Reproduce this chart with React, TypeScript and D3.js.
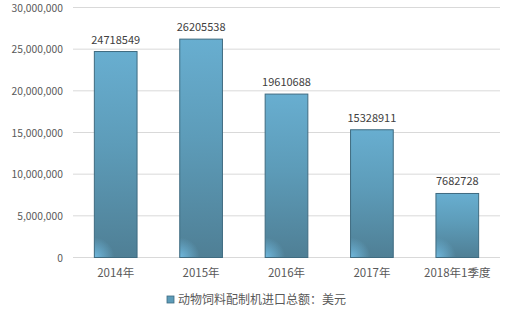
import React from "react";
import * as d3 from "d3";

const categories = ["2014年", "2015年", "2016年", "2017年", "2018年1季度"];
const values = [24718549, 26205538, 19610688, 15328911, 7682728];
const yTicks = [0, 5000000, 10000000, 15000000, 20000000, 25000000, 30000000];
const legendLabel = "动物饲料配制机进口总额：美元";

export default function App() {
  const W = 509, H = 313;
  const left = 73, right = 500, top = 7.5, bottom = 257.5;
  const x = d3.scaleBand<string>().domain(categories).range([left, right]).paddingInner(0.5).paddingOuter(0.25);
  const y = d3.scaleLinear().domain([0, 30000000]).range([bottom, top]);
  const fmt = d3.format(",");
  const font = "'Noto Sans CJK SC', 'Liberation Sans', sans-serif";
  return (
    <svg width={W} height={H} style={{ position: "absolute", left: 0, top: 0, background: "#fff" }} fontFamily={font}>
      <defs>
        <linearGradient id="barg" x1="0" y1="0" x2="0" y2="1">
          <stop offset="0%" stopColor="#68aed0" />
          <stop offset="45%" stopColor="#5d9cb9" />
          <stop offset="100%" stopColor="#4f7f95" />
        </linearGradient>
        {categories.map((c, i) => (
          <radialGradient key={c} id={`corner${i}`} gradientUnits="userSpaceOnUse" cx={x(c)!} cy={bottom} r={20}>
            <stop offset="0%" stopColor="#72bce2" stopOpacity="0.95" />
            <stop offset="100%" stopColor="#72bce2" stopOpacity="0" />
          </radialGradient>
        ))}
      </defs>
      {yTicks.map((t) => (
        <g key={t}>
          <line x1={left} x2={right} y1={y(t)} y2={y(t)} stroke="#d9d9d9" strokeWidth={1} />
          <text x={63} y={y(t) + 0.5} dy="0.35em" textAnchor="end" fontSize={10.3} fill="#595959">{fmt(t)}</text>
        </g>
      ))}
      {categories.map((c, i) => {
        const bx = x(c)!;
        const by = y(values[i]);
        const bw = x.bandwidth();
        const bh = bottom - by;
        return (
          <g key={c}>
            <rect x={bx} y={by} width={bw} height={bh} fill="url(#barg)" />
            <rect x={bx} y={by} width={bw} height={bh} fill={`url(#corner${i})`} stroke="#3f6b80" strokeWidth={1} />
            <text x={bx + bw / 2} y={by - 8} textAnchor="middle" fontSize={11} fill="#404040">{values[i]}</text>
            <text x={bx + bw / 2} y={277} textAnchor="middle" fontSize={11.5} fill="#595959">{c}</text>
          </g>
        );
      })}
      <rect x={167} y={296} width={7} height={7} fill="#5d9cb9" stroke="#3f6b80" strokeWidth={0.8} />
      <text x={178} y={304} fontSize={12} fill="#595959">{legendLabel}</text>
    </svg>
  );
}
